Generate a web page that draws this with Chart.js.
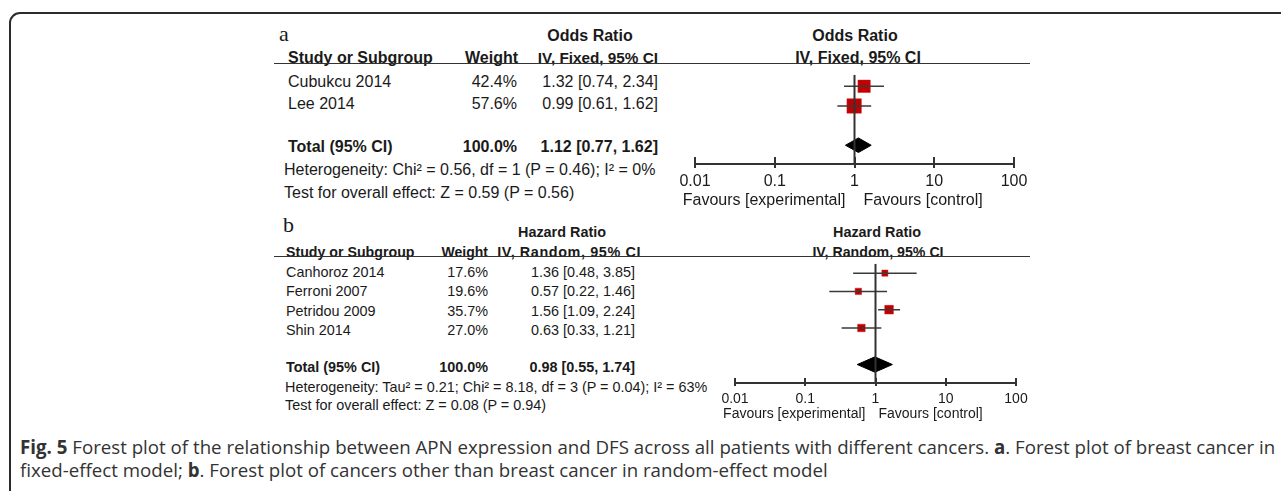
<!DOCTYPE html>
<html>
<head>
<meta charset="utf-8">
<script src="https://cdn.jsdelivr.net/npm/chart.js@4.4.1/dist/chart.umd.min.js"></script>
<style>
    body {
        margin: 0;
        width: 1281px;
        height: 491px;
        overflow: hidden;
        position: relative;
        background: #fff;
        font-family: "Liberation Sans", Arial, sans-serif;
        color: #1a1a1a;
    }
    .frame {
        position: absolute;
        left: 9px;
        top: 12px;
        width: 1300px;
        height: 520px;
        border: 2px solid #2b2b2b;
        border-radius: 11px;
    }
    .t {
        position: absolute;
        white-space: nowrap;
        line-height: 1.15;
    }
    .hline {
        position: absolute;
        height: 0;
        border-top: 1.5px solid #333;
    }
    canvas {
        position: absolute;
    }
    .cap {
        position: absolute;
        left: 20px;
        font-family: "Open Sans", "Noto Sans", sans-serif;
        font-size: 18.7px;
        line-height: 23px;
        color: #333;
        white-space: nowrap;
    }
    .cap.first {
        top: 435px;
    }
    .cap.second {
        top: 458px;
    }
</style>
</head>
<body>
<div class="frame"></div>
<div class="cap first"><b>Fig. 5</b> Forest plot of the relationship between APN expression and DFS across all patients with different cancers. <b>a</b>. Forest plot of breast cancer in</div>
<div class="cap second">fixed-effect model; <b>b</b>. Forest plot of cancers other than breast cancer in random-effect model</div>
<script>
// panel a - breast cancer, fixed effect
const studiesA = ["Cubukcu 2014", "Lee 2014"];
const weightsA = [42.4, 57.6];
const estA = [1.32, 0.99];
const lowA = [0.74, 0.61];
const highA = [2.34, 1.62];
const totalA = [1.12, 0.77, 1.62]; // est, low, high
const hetA = "Heterogeneity: Chi² = 0.56, df = 1 (P = 0.46); I² = 0%";
const testA = "Test for overall effect: Z = 0.59 (P = 0.56)";

// panel b - other cancers, random effect
const studiesB = ["Canhoroz 2014", "Ferroni 2007", "Petridou 2009", "Shin 2014"];
const weightsB = [17.6, 19.6, 35.7, 27.0];
const estB = [1.36, 0.57, 1.56, 0.63];
const lowB = [0.48, 0.22, 1.09, 0.33];
const highB = [3.85, 1.46, 2.24, 1.21];
const totalB = [0.98, 0.55, 1.74];
const hetB = "Heterogeneity: Tau² = 0.21; Chi² = 8.18, df = 3 (P = 0.04); I² = 63%";
const testB = "Test for overall effect: Z = 0.08 (P = 0.94)";

// shared axis
const tickVals = [0.01, 0.1, 1, 10, 100];
const tickLabels = ["0.01", "0.1", "1", "10", "100"];
const favourLeft = "Favours [experimental]";
const favourRight = "Favours [control]";

// helper to drop a text label; y is the vertical centre
function put(x, y, str, opts = {}) {
    const el = document.createElement("div");
    el.className = "t";
    el.textContent = str;
    el.style.left = x + "px";
    el.style.top = y + "px";
    el.style.fontSize = (opts.size || 16) + "px";
    if (opts.bold) el.style.fontWeight = "bold";
    if (opts.ls) el.style.letterSpacing = opts.ls + "px";
    if (opts.serif) el.style.fontFamily = '"Liberation Serif", "DejaVu Serif", serif';
    const dx = opts.align === "right" ? "-100%" : opts.align === "center" ? "-50%" : "0";
    el.style.transform = `translate(${dx}, -50%)`;
    document.body.appendChild(el);
}

function hline(x1, x2, y) {
    const el = document.createElement("div");
    el.className = "hline";
    el.style.left = x1 + "px";
    el.style.width = x2 - x1 + "px";
    el.style.top = y - 1 + "px";
    document.body.appendChild(el);
}

function fmtCI(e, l, h) {
    return `${e.toFixed(2)} [${l.toFixed(2)}, ${h.toFixed(2)}]`;
}

// draws tick marks that sit across the axis line, and the favours labels
const forestAxisPlugin = {
    id: "forestAxis",
    afterDraw(chart, args, opts) {
        const { ctx } = chart;
        const xs = chart.scales.x;
        const y0 = chart.chartArea.bottom;
        ctx.save();
        ctx.strokeStyle = "#333";
        ctx.lineWidth = 2;
        xs.ticks.forEach((t) => {
            const px = Math.round(xs.getPixelForValue(t.value));
            ctx.beginPath();
            ctx.moveTo(px, y0 - opts.up);
            ctx.lineTo(px, y0 + opts.down);
            ctx.stroke();
        });
        ctx.fillStyle = "#1a1a1a";
        ctx.font = `${opts.size}px "Liberation Sans", Arial, sans-serif`;
        ctx.textBaseline = "middle";
        const p1 = xs.getPixelForValue(1);
        ctx.textAlign = "right";
        ctx.fillText(favourLeft, p1 - opts.gapL, y0 + opts.favY);
        ctx.textAlign = "left";
        ctx.fillText(favourRight, p1 + opts.gapR, y0 + opts.favY);
        ctx.restore();
    },
};

function buildForest(p) {
    const canvas = document.createElement("canvas");
    canvas.width = p.w;
    canvas.height = p.h;
    canvas.style.left = p.left + "px";
    canvas.style.top = p.top + "px";
    document.body.appendChild(canvas);

    const n = p.est.length;
    const totalRow = n + 2;
    const datasets = [];

    // line of no effect
    datasets.push({
        data: [{ x: 1, y: p.yMin }, { x: 1, y: p.yMax }],
        showLine: true,
        borderColor: "#333",
        borderWidth: 2,
        pointRadius: 0,
    });

    // confidence intervals
    p.est.forEach((e, i) => {
        datasets.push({
            data: [{ x: p.low[i], y: i + 1 }, { x: p.high[i], y: i + 1 }],
            showLine: true,
            borderColor: "#3a3a3a",
            borderWidth: 1.5,
            pointRadius: 0,
        });
    });

    // study squares, area follows weight
    datasets.push({
        data: p.est.map((e, i) => ({ x: e, y: i + 1 })),
        pointStyle: "rect",
        pointRadius: p.weights.map((w) => (p.k * Math.sqrt(w)) / Math.SQRT2),
        backgroundColor: "#c00000",
        borderColor: "#d01818",
        borderWidth: 0.5,
    });

    // pooled diamond
    const [te, tl, th] = p.total;
    datasets.push({
        data: [
            { x: tl, y: totalRow },
            { x: te, y: totalRow - p.dh },
            { x: th, y: totalRow },
            { x: te, y: totalRow + p.dh },
            { x: tl, y: totalRow },
        ],
        showLine: true,
        fill: "shape",
        backgroundColor: "#000",
        borderColor: "#000",
        borderWidth: 1,
        pointRadius: 0,
    });

    return new Chart(canvas, {
        type: "scatter",
        data: { datasets },
        options: {
            responsive: false,
            animation: false,
            events: [],
            layout: { padding: { left: p.padL, right: p.padR, top: 0, bottom: 0 } },
            plugins: {
                legend: { display: false },
                tooltip: { enabled: false },
                forestAxis: p.axisOpts,
            },
            scales: {
                x: {
                    type: "logarithmic",
                    min: 0.01,
                    max: 100,
                    afterBuildTicks: (s) => {
                        s.ticks = tickVals.map((v) => ({ value: v }));
                    },
                    afterFit: (s) => {
                        s.height = p.axisH;
                    },
                    grid: { display: false, drawTicks: false },
                    border: { color: "#333", width: 2 },
                    ticks: {
                        autoSkip: false,
                        maxRotation: 0,
                        padding: p.tickPad,
                        color: "#1a1a1a",
                        font: { family: '"Liberation Sans", Arial, sans-serif', size: p.size },
                        callback: (v, i) => tickLabels[i],
                    },
                },
                y: {
                    display: false,
                    reverse: true,
                    min: p.yMin,
                    max: p.yMax,
                },
            },
        },
        plugins: [forestAxisPlugin],
    });
}

// ---------- panel a ----------
put(279, 34, "a", { size: 22, serif: true });
put(590, 36, "Odds Ratio", { bold: true, align: "center" });
put(855, 36, "Odds Ratio", { bold: true, align: "center" });
put(288, 58, "Study or Subgroup", { bold: true });
put(518, 58, "Weight", { bold: true, align: "right" });
put(658, 58, "IV, Fixed, 95% CI", { bold: true, size: 15.3, align: "right" });
put(858, 58, "IV, Fixed, 95% CI", { bold: true, align: "center" });
hline(274, 1030, 64);
studiesA.forEach((s, i) => {
    const y = 82 + i * 21.5;
    put(288, y, s);
    put(517, y, weightsA[i].toFixed(1) + "%", { align: "right" });
    put(658, y, fmtCI(estA[i], lowA[i], highA[i]), { align: "right" });
});
put(288, 147, "Total (95% CI)", { bold: true });
put(517, 147, "100.0%", { bold: true, align: "right" });
put(658, 147, fmtCI(totalA[0], totalA[1], totalA[2]), { bold: true, align: "right" });
put(284, 170, hetA);
put(284, 193, testA);

buildForest({
    left: 660, top: 64, w: 400, h: 150,
    padL: 35, padR: 46, axisH: 50, tickPad: 8, size: 16,
    yMin: 0.41, yMax: 4.955, k: 1.9, dh: 0.37,
    est: estA, low: lowA, high: highA, weights: weightsA, total: totalA,
    axisOpts: { up: 7, down: 4, favY: 37, gapL: 9, gapR: 9, size: 16 },
});

// ---------- panel b ----------
const sb = 14.4;
put(283, 225, "b", { size: 22, serif: true });
put(562, 232, "Hazard Ratio", { bold: true, size: sb, align: "center" });
put(877, 232, "Hazard Ratio", { bold: true, size: sb, align: "center" });
put(286, 252, "Study or Subgroup", { bold: true, size: 14.2 });
put(488, 252, "Weight", { bold: true, size: 14, align: "right" });
put(641, 252, "IV, Random, 95% CI", { bold: true, size: sb, ls: 0.6, align: "right" });
put(878, 252, "IV, Random, 95% CI", { bold: true, size: 14.2, align: "center" });
hline(274, 1030, 257);
studiesB.forEach((s, i) => {
    const y = 272 + i * 19.3;
    put(286, y, s, { size: sb });
    put(488, y, weightsB[i].toFixed(1) + "%", { size: sb, align: "right" });
    put(635, y, fmtCI(estB[i], lowB[i], highB[i]), { size: sb, align: "right" });
});
put(286, 367, "Total (95% CI)", { bold: true, size: sb });
put(488, 367, "100.0%", { bold: true, size: sb, align: "right" });
put(635, 367, fmtCI(totalB[0], totalB[1], totalB[2]), { bold: true, size: sb, align: "right" });
put(285, 387, hetB, { size: sb });
put(285, 405, testB, { size: sb });

buildForest({
    left: 700, top: 257, w: 360, h: 176,
    padL: 35, padR: 44, axisH: 50, tickPad: 8, size: 14,
    yMin: 0.48, yMax: 7.01, k: 1.45, dh: 0.42,
    est: estB, low: lowB, high: highB, weights: weightsB, total: totalB,
    axisOpts: { up: 5, down: 3, favY: 31, gapL: 10, gapR: 3, size: 14 },
});
</script>
</body>
</html>
